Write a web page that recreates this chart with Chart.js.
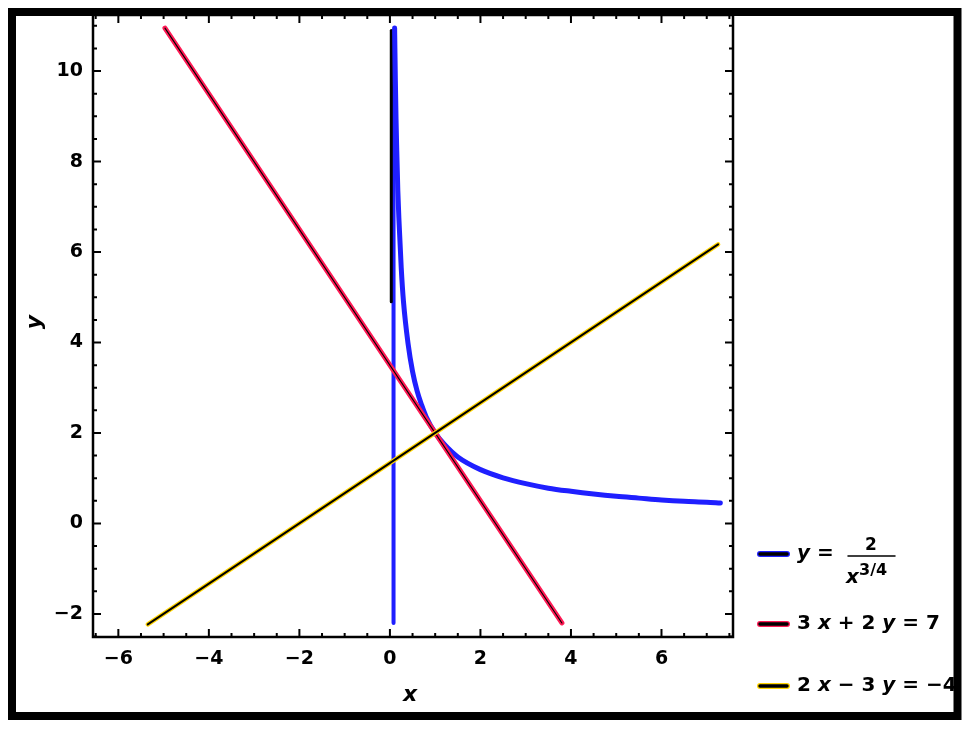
<!DOCTYPE html>
<html>
<head>
<title>y = 2/x^(3/4) and two lines</title>
<script src="https://cdn.jsdelivr.net/npm/chart.js@4.4.0/dist/chart.umd.min.js"></script>
<style>
body { margin: 0; background: #fff; }
.wrap { position: relative; width: 973px; height: 733px; }
</style>
</head>
<body>
<div class="wrap"><canvas id="plot" width="973" height="733"></canvas></div>
<script>
// curve y = 2/x^(3/4)
var curveX = [0.104, 0.11, 0.12, 0.135, 0.15, 0.175, 0.2, 0.25, 0.3, 0.4, 0.5, 0.6, 0.7, 0.8, 1.0, 1.2, 1.5, 2.0, 2.5, 3.0, 3.5, 4.0, 4.5, 5.0, 5.5, 6.0, 6.5, 7.0, 7.3];
var curveY = [10.95, 10.5, 9.8, 8.95, 8.3, 7.35, 6.7, 5.65, 4.9, 3.98, 3.36, 2.93, 2.62, 2.36, 2.0, 1.75, 1.47, 1.19, 1.01, 0.88, 0.78, 0.71, 0.65, 0.6, 0.56, 0.52, 0.49, 0.47, 0.45];

// vertical branch along x = 0
var stemX = [0.08, 0.08];
var stemY = [-2.2, 10.9];
var stemDarkX = [0.03, 0.03];
var stemDarkY = [4.9, 10.9];

// 3x + 2y = 7
var redX = [-4.97, 3.8];
var redY = [10.95, -2.2];

// 2x - 3y = -4
var yellowX = [-5.35, 7.25];
var yellowY = [-2.23, 6.17];

var xTicks = [-6, -4, -2, 0, 2, 4, 6];
var yTicks = [-2, 0, 2, 4, 6, 8, 10];
var xRange = [-6.56, 7.58];
var yRange = [-2.51, 11.24];

var legendColors = ['#1f1fff', '#ff1a55', '#ffd400'];

function pts(xs, ys) {
  return xs.map(function (x, i) { return { x: x, y: ys[i] }; });
}

function line(data, color, width) {
  return { data: data, showLine: true, borderColor: color, borderWidth: width,
           pointRadius: 0, fill: false, borderCapStyle: 'round', tension: 0 };
}

var tickFont = { family: 'DejaVu Sans', size: 19, weight: 'bold' };

function minus(v) { return v < 0 ? '\u2212' + (-v) : '' + v; }

// ticks inside the frame on all four sides, axis titles, legend, outer border
var decor = {
  id: 'decor',
  afterDraw: function (chart) {
    var ctx = chart.ctx, a = chart.chartArea;
    var sx = chart.scales.x, sy = chart.scales.y;
    ctx.save();
    ctx.strokeStyle = '#000';
    ctx.lineWidth = 2.5;
    ctx.strokeRect(a.left, a.top, a.right - a.left, a.bottom - a.top);

    ctx.lineWidth = 2;
    function isMajor(v, list) { return list.some(function (t) { return Math.abs(t - v) < 1e-6; }); }
    for (var v = Math.ceil(xRange[0] * 2) / 2; v <= xRange[1]; v += 0.5) {
      var len = isMajor(v, xTicks) ? 8 : 4;
      var px = sx.getPixelForValue(v);
      ctx.beginPath();
      ctx.moveTo(px, a.bottom); ctx.lineTo(px, a.bottom - len);
      ctx.moveTo(px, a.top); ctx.lineTo(px, a.top + len);
      ctx.stroke();
    }
    for (var w = Math.ceil(yRange[0] * 2) / 2; w <= yRange[1]; w += 0.5) {
      var len2 = isMajor(w, yTicks) ? 8 : 4;
      var py = sy.getPixelForValue(w);
      ctx.beginPath();
      ctx.moveTo(a.left, py); ctx.lineTo(a.left + len2, py);
      ctx.moveTo(a.right, py); ctx.lineTo(a.right - len2, py);
      ctx.stroke();
    }

    // axis titles
    ctx.fillStyle = '#000';
    ctx.textAlign = 'center';
    ctx.textBaseline = 'middle';
    ctx.font = 'italic bold 22px "DejaVu Sans"';
    ctx.fillText('x', 410, 695);
    ctx.save();
    ctx.translate(35, 322);
    ctx.rotate(-Math.PI / 2);
    ctx.fillText('y', 0, 0);
    ctx.restore();

    // legend
    var rows = [554, 624, 686];
    rows.forEach(function (ry, i) {
      ctx.lineCap = 'round';
      ctx.strokeStyle = legendColors[i];
      ctx.lineWidth = 6;
      ctx.beginPath(); ctx.moveTo(760, ry); ctx.lineTo(787, ry); ctx.stroke();
      ctx.strokeStyle = '#000';
      ctx.lineWidth = 3.5;
      ctx.beginPath(); ctx.moveTo(760, ry); ctx.lineTo(787, ry); ctx.stroke();
    });
    var up = 'bold 20px "DejaVu Sans"', it = 'italic bold 20px "DejaVu Sans"';
    function tokens(list, x, y) {
      ctx.textAlign = 'left';
      list.forEach(function (t) {
        ctx.font = t[1];
        ctx.fillText(t[0], x, y);
        x += ctx.measureText(t[0]).width;
      });
      return x;
    }
    tokens([['y', it], [' = ', up]], 797, rows[0]);
    ctx.lineWidth = 1.5;
    ctx.beginPath(); ctx.moveTo(848, rows[0] + 2); ctx.lineTo(895, rows[0] + 2); ctx.stroke();
    ctx.textAlign = 'center';
    ctx.font = 'bold 17px "DejaVu Sans"';
    ctx.fillText('2', 871, rows[0] - 8);
    ctx.textAlign = 'left';
    ctx.font = it;
    ctx.fillText('x', 846, rows[0] + 24);
    ctx.font = 'bold 16px "DejaVu Sans"';
    ctx.fillText('3/4', 859, rows[0] + 17);
    tokens([['3 ', up], ['x', it], [' + 2 ', up], ['y', it], [' = 7', up]], 797, rows[1]);
    tokens([['2 ', up], ['x', it], [' \u2212 3 ', up], ['y', it], [' = \u22124', up]], 797, rows[2]);

    // outer black frame
    ctx.strokeStyle = '#000';
    ctx.lineWidth = 8;
    ctx.strokeRect(12, 12, 945.5, 704);
    ctx.restore();
  }
};

var curveSet = line(pts(curveX, curveY), legendColors[0], 5);
curveSet.cubicInterpolationMode = 'monotone';

new Chart(document.getElementById('plot'), {
  type: 'scatter',
  data: {
    datasets: [
      line(pts(yellowX, yellowY), '#000', 2),
      line(pts(yellowX, yellowY), legendColors[2], 4.5),
      line(pts(redX, redY), '#000', 1.1),
      line(pts(redX, redY), legendColors[1], 5),
      curveSet,
      line(pts(stemDarkX, stemDarkY), '#000', 3),
      line(pts(stemX, stemY), legendColors[0], 4)
    ]
  },
  options: {
    responsive: false,
    animation: false,
    layout: { padding: { left: 0, right: 240, top: 15, bottom: 0 } },
    plugins: { legend: { display: false }, tooltip: { enabled: false } },
    scales: {
      x: {
        type: 'linear', min: xRange[0], max: xRange[1],
        afterBuildTicks: function (s) { s.ticks = xTicks.map(function (v) { return { value: v }; }); },
        afterFit: function (s) { s.height = 96; s.paddingLeft = 0; s.paddingRight = 0; },
        grid: { display: false, drawTicks: false },
        border: { display: false },
        ticks: { font: tickFont, color: '#000', padding: 11, callback: minus }
      },
      y: {
        type: 'linear', min: yRange[0], max: yRange[1],
        afterBuildTicks: function (s) { s.ticks = yTicks.map(function (v) { return { value: v }; }); },
        afterFit: function (s) { s.width = 93; s.paddingTop = 0; s.paddingBottom = 0; },
        grid: { display: false, drawTicks: false },
        border: { display: false },
        ticks: { font: tickFont, color: '#000', padding: 10, callback: minus }
      }
    }
  },
  plugins: [decor]
});
</script>
</body>
</html>
